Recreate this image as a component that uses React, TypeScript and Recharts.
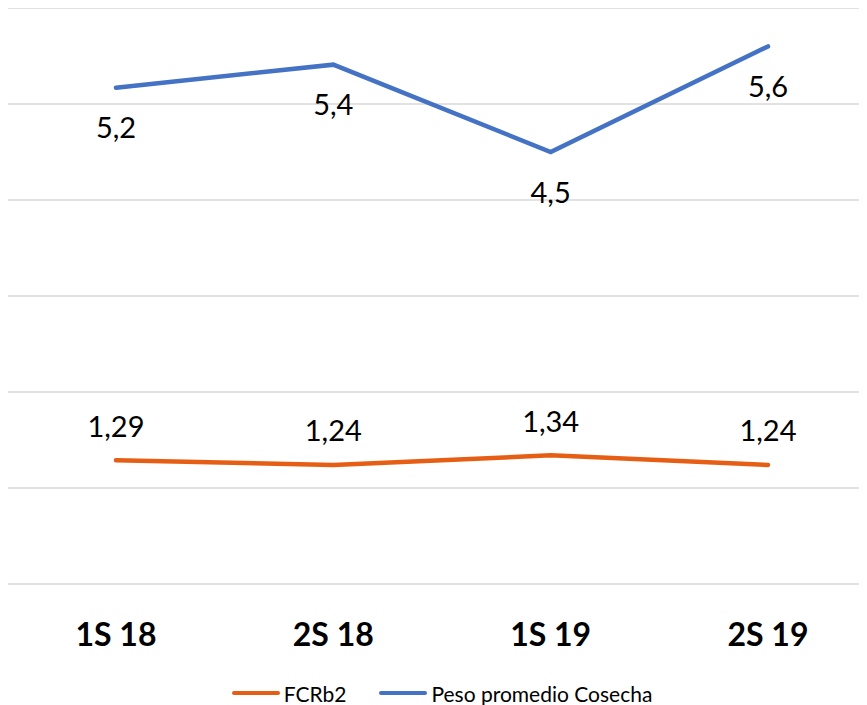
import React from 'react';
import { LineChart, Line, XAxis, YAxis, CartesianGrid, Legend, LabelList } from 'recharts';

const periods = ['1S 18', '2S 18', '1S 19', '2S 19'];
const fcrb2 = [1.29, 1.24, 1.34, 1.24];
const pesoPromedio = [5.17, 5.41, 4.5, 5.6];
const yTicks = [0, 1, 2, 3, 4, 5, 6];

const data = periods.map((p, i) => ({ period: p, fcr: fcrb2[i], peso: pesoPromedio[i] }));

const ORANGE = '#E65E14';
const BLUE = '#4472C4';
const FONT = 'Lato, "Open Sans", sans-serif';

const fmt = (v: number, d: number) => v.toFixed(d).replace('.', ',');

const makeLabel = (dy: number, decimals: number) => (props: any) => {
  const { x, y, value } = props;
  return (
    <text x={x} y={y + dy} textAnchor="middle" dominantBaseline="central" fill="#000" fontSize={29} fontFamily={FONT}>
      {fmt(value, decimals)}
    </text>
  );
};

const XTick = (props: any) => {
  const { x, y, payload } = props;
  return (
    <text x={x} y={y + 49} textAnchor="middle" dominantBaseline="central" fill="#000" fontSize={32} fontWeight={700} fontFamily={FONT}>
      {payload.value}
    </text>
  );
};

const legendItems = [
  { name: 'FCRb2', color: ORANGE },
  { name: 'Peso promedio Cosecha', color: BLUE },
];

const LegendContent = () => (
  <div style={{ display: 'flex', justifyContent: 'center', alignItems: 'center', height: 28, fontFamily: FONT, fontSize: 21, color: '#000', paddingTop: 2 }}>
    {legendItems.map((it, i) => (
      <div key={it.name} style={{ display: 'flex', alignItems: 'center', marginLeft: i ? 33 : 0 }}>
        <span style={{ display: 'inline-block', width: 48, height: 4.5, borderRadius: 2, background: it.color, marginRight: 4 }} />
        <span>{it.name}</span>
      </div>
    ))}
  </div>
);

export default function App() {
  return (
    <div style={{ width: 859, height: 697, overflow: 'hidden' }}>
      <LineChart width={868} height={697} data={data} margin={{ top: 0, right: 0, left: 0, bottom: 0 }}>
        <CartesianGrid stroke="#d9d9d9" strokeWidth={1.5} vertical={false} />
        <XAxis dataKey="period" axisLine={false} tickLine={false} tickSize={0} tickMargin={0} height={93} tick={<XTick />} interval={0} padding={{ left: 108, right: 108 }} />
        <YAxis hide domain={[0, 6]} ticks={yTicks} />
        <Legend verticalAlign="bottom" height={28} content={<LegendContent />} />
        <Line dataKey="fcr" name="FCRb2" stroke={ORANGE} strokeWidth={4.5} strokeLinecap="round" dot={false} activeDot={false} isAnimationActive={false}>
          <LabelList dataKey="fcr" content={makeLabel(-35, 2)} />
        </Line>
        <Line dataKey="peso" name="Peso promedio Cosecha" stroke={BLUE} strokeWidth={4.5} strokeLinecap="round" dot={false} activeDot={false} isAnimationActive={false}>
          <LabelList dataKey="peso" content={makeLabel(39, 1)} />
        </Line>
      </LineChart>
    </div>
  );
}
